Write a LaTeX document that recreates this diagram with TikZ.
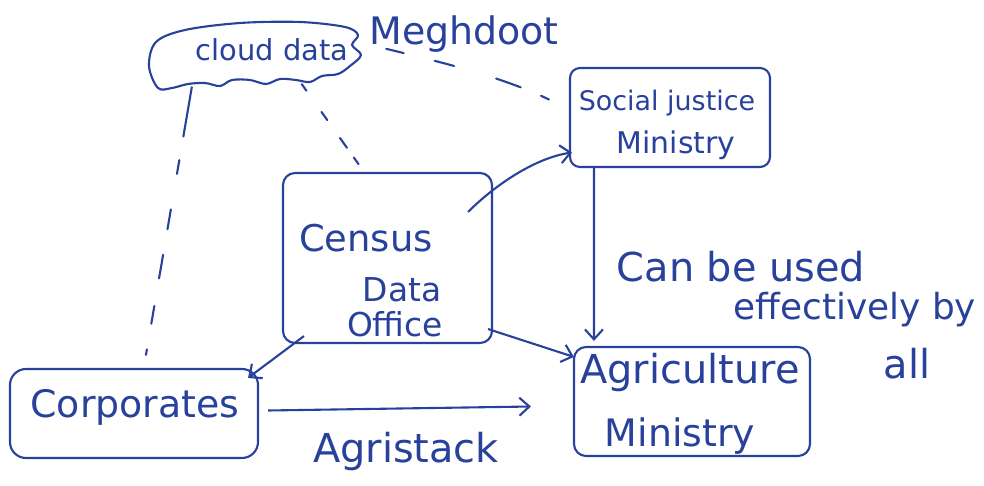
\documentclass[tikz,border=0pt]{standalone}
\usepackage{fontspec}
\setmainfont{DejaVu Sans}
\usetikzlibrary{arrows.meta,calc}
\definecolor{ink}{RGB}{40,65,155}
\newcommand{\fsz}[1]{\fontsize{#1}{#1}\selectfont}
\begin{document}
\begin{tikzpicture}[x=1bp,y=-1bp,
  inkline/.style={draw=ink,line width=2.1bp,line join=round},
  box/.style={inkline,rounded corners=12bp,inner sep=0pt},
  txt/.style={text=ink,inner sep=0pt,anchor=center},
  arr/.style={draw=ink,line width=2.1bp,-{Straight Barb[length=10bp,width=18bp,line width=2.1bp]}},
  dsh/.style={draw=ink,line width=2.1bp,line cap=round},
]
\useasboundingbox (0,0) rectangle (984,486);
\fill[white] (0,0) rectangle (984,486);

% cloud
\node[inner sep=0pt,minimum width=213bp,minimum height=68bp] (cloud) at (253.5,56) {};
\draw[inkline] plot[smooth cycle,tension=0.55] coordinates {(158,88) (149,66) (156,42) (185,30) (240,23) (300,22) (345,27) (358,35) (352,45) (361,55) (350,66) (338,74) (322,76) (310,82) (296,80) (280,79) (266,84) (250,80) (232,80) (220,86) (205,83) (188,84) (172,88)};
\node[txt,font=\fsz{29}] (tcloud) at (272,50) {cloud data};
\node[txt,font=\fsz{38}] (megh) at (464,34) {Meghdoot};

% boxes
\node[box,rounded corners=10bp,minimum width=200bp,minimum height=99bp] (social) at (670,117.5) {};
\node[box,minimum width=209bp,minimum height=170bp] (census) at (387.5,258) {};
\node[box,rounded corners=16bp,minimum width=248bp,minimum height=89bp] (corp) at (134,413.5) {};
\node[box,minimum width=236bp,minimum height=109bp] (agri) at (692,401.5) {};

% box texts
\node[txt,font=\fsz{27}] (tsoc1) at (667,103) {Social justice};
\node[txt,font=\fsz{30}] (tsoc2) at (676,145) {Ministry};
\node[txt,font=\fsz{37}] (tcen1) at (366,238) {Census};
\node[txt,font=\fsz{33}] (tcen2) at (402,290) {Data};
\node[txt,font=\fsz{33}] (tcen3) at (395,324) {Office};
\node[txt,font=\fsz{38}] (tcorp) at (135,407) {Corporates};
\node[txt,font=\fsz{40}] (tagr1) at (690,373) {Agriculture};
\node[txt,font=\fsz{38}] (tagr2) at (680,436) {Ministry};

% free texts
\node[txt,font=\fsz{40}] (tcan) at (741,267) {Can be used};
\node[txt,font=\fsz{36}] (teff) at (855,310) {effectively by};
\node[txt,font=\fsz{40}] (tall) at (907,364) {all};
\node[txt,font=\fsz{40}] (tagri) at (406,452) {Agristack};

% connectors
\draw[arr] ($(census.north east)+(-25,40)$) .. controls (495,185) and (535,158) .. ($(social.west)+(3,35)$);
\draw[arr] ($(social.south west)+(25,0)$) -- ($(agri.north west)+(21,-5)$);
\draw[arr] ($(census.south east)+(-5,-15)$) -- ($(agri.north west)+(1,11)$);
\draw[arr] ($(census.south west)+(22,-8)$) -- ($(corp.north east)+(-11,10)$);
\draw[arr] ($(corp.east)+(9,-3)$) -- ($(agri.west)+(-42,5)$);

% dashed links
\coordinate (c1) at ($(cloud.south west)+(45,-3)$);
\coordinate (c2) at ($(cloud.south west)+(155,-6)$);
\coordinate (c3) at ($(cloud.north east)+(26,27)$);
\draw[dsh,dash pattern=on 50bp off 24bp on 14bp off 36bp on 20bp off 26bp on 24bp off 28bp on 18bp off 26bp] (c1) -- ($(corp.north west)+(137,-13)$);
\draw[dsh,dash pattern=on 8bp off 26bp on 10bp off 22bp on 12bp off 12bp] (c2) -- ($(census.north west)+(80,-3)$);
\draw[dsh,dash pattern=on 18bp off 32bp on 20bp off 44bp on 26bp off 22bp] (c3) .. controls (440,62) and (500,76) .. ($(social.west)+(-20,-18)$);
\end{tikzpicture}
\end{document}
